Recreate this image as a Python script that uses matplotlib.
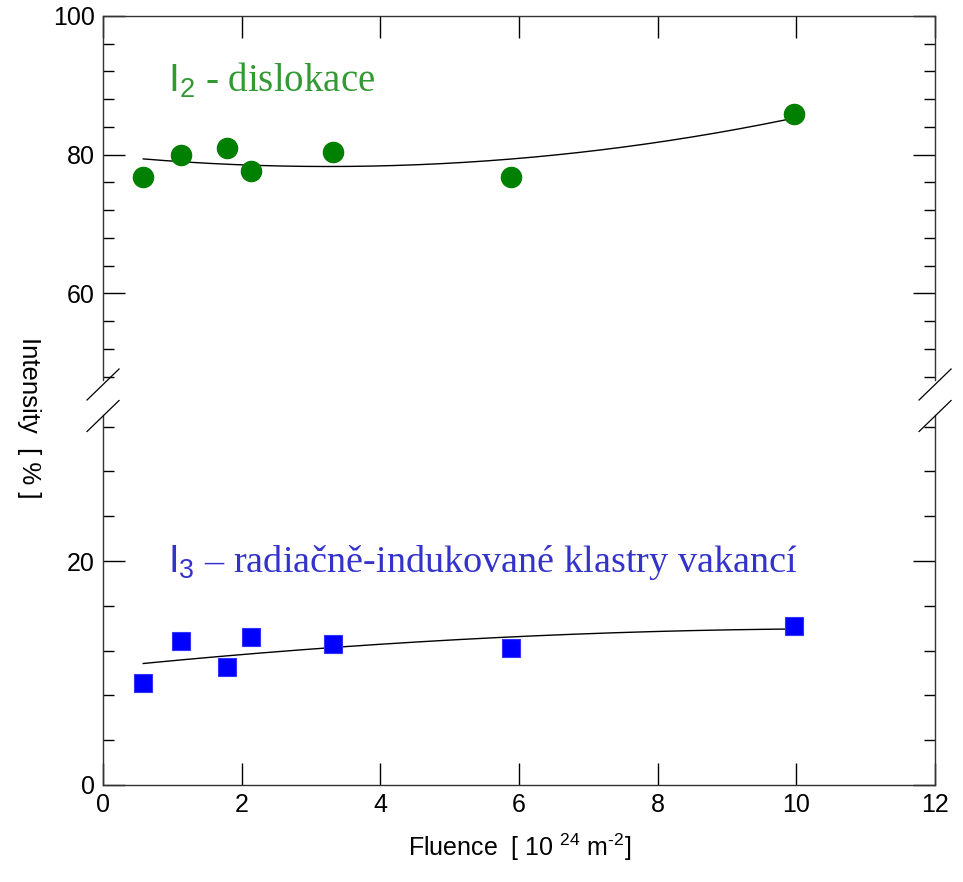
import numpy as np
import matplotlib
matplotlib.use("Agg")
import matplotlib.pyplot as plt
from matplotlib.ticker import MultipleLocator

plt.rcParams['font.family'] = ['Liberation Sans', 'DejaVu Sans']
plt.rcParams['mathtext.fontset'] = 'custom'
plt.rcParams['mathtext.rm'] = 'Liberation Sans'

# Fluence [10^24 m^-2]
fluence = [0.58, 1.13, 1.79, 2.14, 3.32, 5.89, 9.97]
# I2 - dislocations [%]
i2 = [76.8, 79.9, 81.0, 77.6, 80.4, 76.8, 85.9]
# I3 - radiation-induced vacancy clusters [%]
i3 = [9.1, 12.9, 10.5, 13.2, 12.6, 12.2, 14.2]

x_ticks = [0, 2, 4, 6, 8, 10, 12]
upper_ticks = [60, 80, 100]
lower_ticks = [0, 20]

fig = plt.figure(figsize=(9.63, 8.82), dpi=100)
left, right = 0.107, 0.971
ax_top = fig.add_axes([left, 0.569, right - left, 0.982 - 0.569])
ax_bot = fig.add_axes([left, 0.110, right - left, 0.529 - 0.110])

# quadratic trend curves through each series
xf = np.linspace(min(fluence), max(fluence), 200)
c2 = np.polyfit(fluence, i2, 2)
c3 = np.polyfit(fluence, i3, 2)

ax_top.plot(xf, np.polyval(c2, xf), color='black', lw=1.0, zorder=2)
ax_top.plot(fluence, i2, 'o', color='#008000', ms=14.5, mec='#008000', zorder=3)
ax_bot.plot(xf, np.polyval(c3, xf), color='black', lw=1.0, zorder=2)
ax_bot.plot(fluence, i3, 's', color='#0000FF', ms=13, mec='#3333FF', mew=0.8, zorder=3)

for ax in (ax_top, ax_bot):
    ax.set_xlim(0, 12)
    ax.xaxis.set_major_locator(MultipleLocator(2))
    ax.yaxis.set_minor_locator(MultipleLocator(4))
    ax.tick_params(axis='both', which='major', direction='in', length=16, width=1.0,
                   labelsize=18, right=True, top=True, pad=6)
    ax.tick_params(axis='y', which='minor', direction='in', length=8, width=1.0, right=True)
    for s in ax.spines.values():
        s.set_linewidth(1.0)
        s.set_color('#333333')

ax_top.set_ylim(47.5, 100)
ax_top.set_yticks(upper_ticks)
ax_top.spines['bottom'].set_visible(False)
ax_top.tick_params(axis='x', which='both', bottom=False, labelbottom=False)

ax_bot.set_ylim(0, 33)
ax_bot.set_yticks(lower_ticks)
ax_bot.set_xticks(x_ticks)
ax_bot.spines['top'].set_visible(False)
ax_bot.tick_params(axis='x', which='both', top=False)

# axis-break marks on both sides
W, H = fig.get_size_inches() * fig.dpi
dx, dy = 16 / W, 31 / H
for xc in (left, right):
    for yc in (1 - 384.5 / 882, 1 - 416 / 882):
        fig.add_artist(plt.Line2D([xc - dx, xc + dx], [yc - dy / 2, yc + dy / 2],
                                  color='black', lw=0.9, transform=fig.transFigure))

ax_top.text(0.93, 90.6, r'$\mathrm{I}_{\mathrm{2}}$ - dislokace', family='Liberation Serif',
            fontsize=28, color='#339933', va='center', ha='left')
ax_bot.text(0.93, 19.9, r'$\mathrm{I}_{\mathrm{3}}$ – radiačně-indukované klastry vakancí',
            family='Liberation Serif', fontsize=27.5, color='#3333CC', va='center', ha='left')

fig.text(0.54, 0.022, 'Fluence  [ 10 $^{\\mathregular{24}}$ m$^{\\mathregular{\u2010 2}}$]',
         fontsize=18, ha='center', va='bottom')
fig.text(0.030, 0.526, 'Intensity  [ % ]', fontsize=18.5, rotation=-90,
         ha='center', va='center')

fig.savefig('out.png', dpi=100)
